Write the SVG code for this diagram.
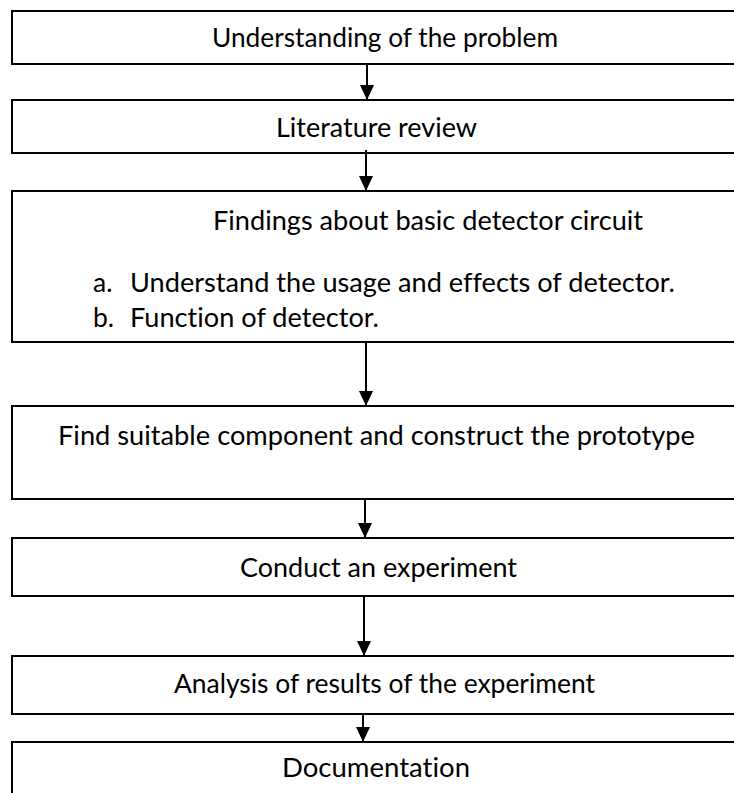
<svg xmlns="http://www.w3.org/2000/svg" width="734" height="793" viewBox="0 0 734 793">
  <defs>
    <style>
      .box { fill: #ffffff; stroke: #000000; stroke-width: 2; }
      .lbl { font-family: "Lato", "Open Sans", "Liberation Sans", sans-serif; font-size: 26.5px; fill: #000000; font-variant-ligatures: none; font-feature-settings: "liga" 0, "clig" 0; }
      .conn { stroke: #000000; stroke-width: 2; fill: none; }
    </style>
    <marker id="ah" markerUnits="userSpaceOnUse" viewBox="0 0 15 14" markerWidth="15" markerHeight="14" refX="15" refY="7" orient="auto">
      <path d="M0,0 L15,7 L0,14 Z" fill="#000000"/>
    </marker>
  </defs>
  <rect width="734" height="793" fill="#ffffff"/>

  <g id="node-understanding">
    <rect class="box" x="12" y="11" width="746" height="53"/>
    <text class="lbl" x="212" y="47" textLength="346" lengthAdjust="spacingAndGlyphs">Understanding of the problem</text>
  </g>

  <g id="node-literature">
    <rect class="box" x="12" y="100" width="746" height="53"/>
    <text class="lbl" x="276" y="137" textLength="201" lengthAdjust="spacingAndGlyphs">Literature review</text>
  </g>

  <g id="node-findings">
    <rect class="box" x="12" y="191" width="746" height="151"/>
    <text class="lbl" x="213" y="230" textLength="430" lengthAdjust="spacingAndGlyphs">Findings about basic detector circuit</text>
    <text class="lbl" x="93" y="292">a.</text>
    <text class="lbl" x="130" y="292" textLength="545" lengthAdjust="spacingAndGlyphs">Understand the usage and effects of detector.</text>
    <text class="lbl" x="93" y="327">b.</text>
    <text class="lbl" x="130" y="327" textLength="249" lengthAdjust="spacingAndGlyphs">Function of detector.</text>
  </g>

  <g id="node-prototype">
    <rect class="box" x="12" y="406" width="746" height="93"/>
    <text class="lbl" x="58" y="445" textLength="637" lengthAdjust="spacingAndGlyphs">Find suitable component and construct the prototype</text>
  </g>

  <g id="node-experiment">
    <rect class="box" x="12" y="538" width="746" height="58"/>
    <text class="lbl" x="240" y="577" textLength="277" lengthAdjust="spacingAndGlyphs">Conduct an experiment</text>
  </g>

  <g id="node-analysis">
    <rect class="box" x="12" y="656" width="746" height="58"/>
    <text class="lbl" x="174" y="693" textLength="421" lengthAdjust="spacingAndGlyphs">Analysis of results of the experiment</text>
  </g>

  <g id="node-documentation">
    <rect class="box" x="12" y="742" width="746" height="80"/>
    <text class="lbl" x="282" y="777" textLength="188" lengthAdjust="spacingAndGlyphs">Documentation</text>
  </g>

  <g id="connectors">
    <line class="conn" x1="367" y1="64" x2="367" y2="100" marker-end="url(#ah)"/>
    <line class="conn" x1="366" y1="150" x2="366" y2="191" marker-end="url(#ah)"/>
    <line class="conn" x1="366" y1="342" x2="366" y2="406" marker-end="url(#ah)"/>
    <line class="conn" x1="365" y1="499" x2="365" y2="538" marker-end="url(#ah)"/>
    <line class="conn" x1="364" y1="596" x2="364" y2="656" marker-end="url(#ah)"/>
    <line class="conn" x1="363" y1="714" x2="363" y2="742" marker-end="url(#ah)"/>
  </g>
</svg>
